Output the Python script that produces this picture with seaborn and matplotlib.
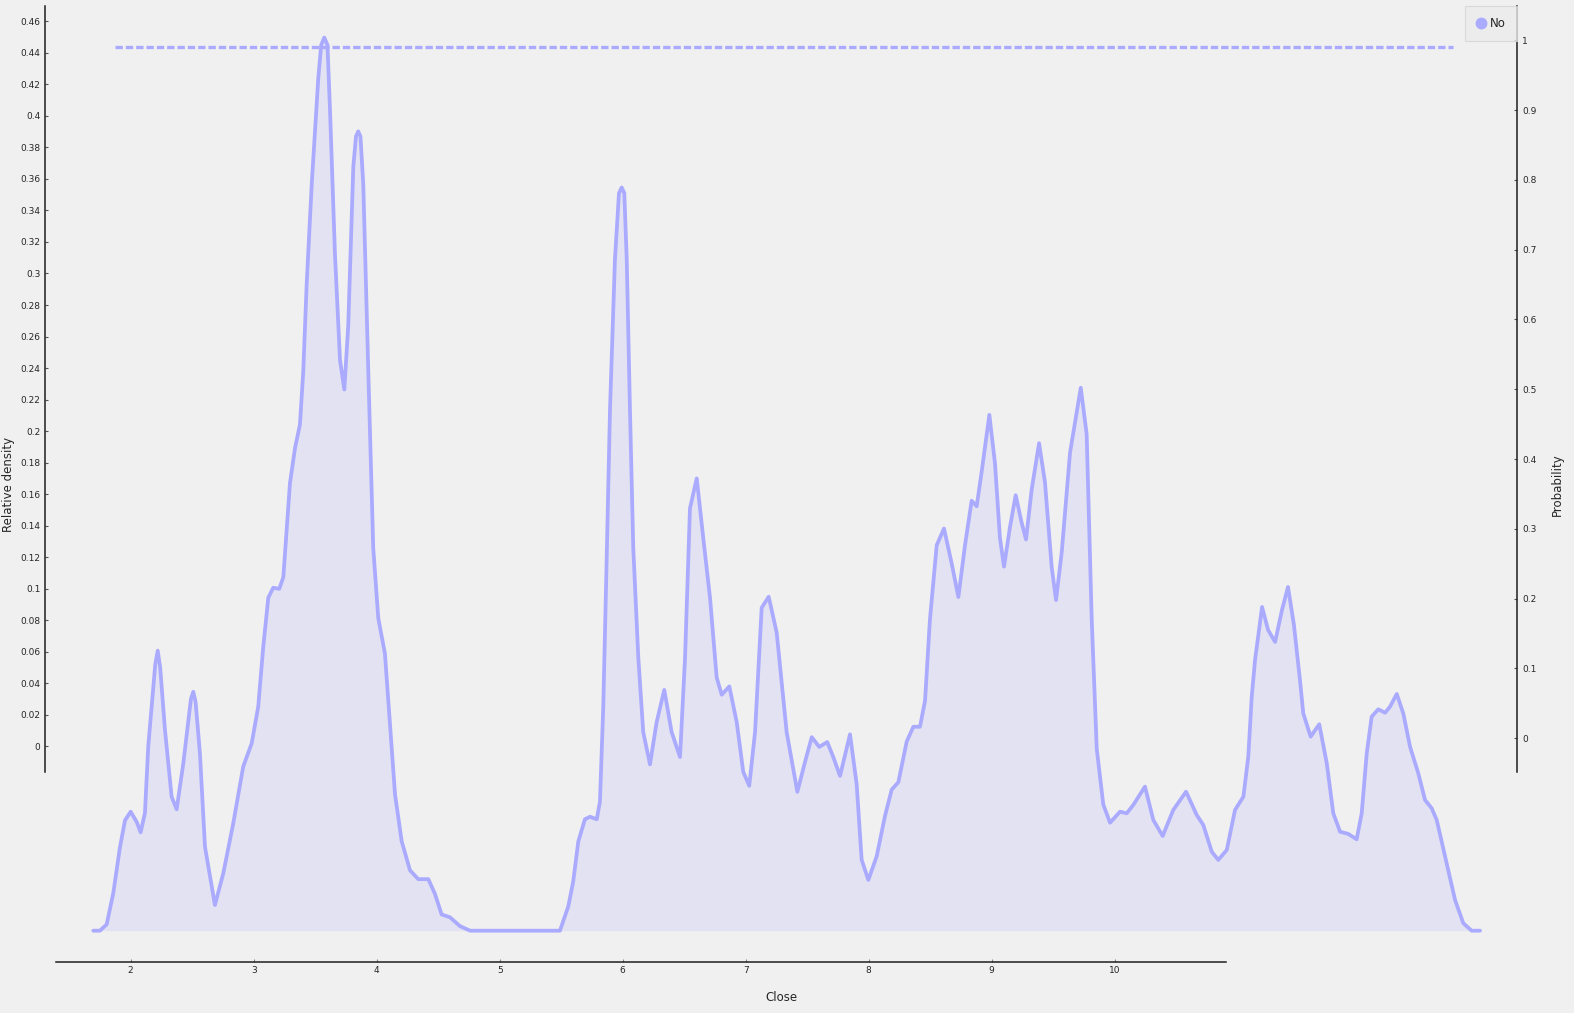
import matplotlib
matplotlib.use("Agg")
import matplotlib.pyplot as plt
from matplotlib.lines import Line2D
from matplotlib.ticker import FixedLocator, FuncFormatter
import seaborn as sns

sns.set_style("white")
plt.rcParams["font.family"] = ["DejaVu Sans"]

# ==========================================
# Data
# ==========================================

class_name = "No"

close = [
    1.696, 1.750, 1.805, 1.859, 1.913, 1.954, 2.000, 2.049, 2.081, 2.116,
    2.143, 2.200, 2.220, 2.240, 2.279, 2.333, 2.374, 2.428, 2.490, 2.509, 2.528,
    2.563, 2.604, 2.685, 2.753, 2.834, 2.915, 2.984, 3.037, 3.078, 3.119,
    3.159, 3.208, 3.241, 3.295, 3.336, 3.376, 3.403, 3.431, 3.472, 3.525,
    3.549, 3.574, 3.600, 3.620, 3.661, 3.702, 3.737, 3.769, 3.810, 3.832,
    3.850, 3.868, 3.891, 3.932, 3.972, 4.013, 4.067, 4.108, 4.149, 4.203,
    4.271, 4.338, 4.420, 4.474, 4.528, 4.596, 4.677, 4.759, 5.000, 5.490,
    5.558, 5.598, 5.639, 5.693, 5.734, 5.789, 5.815, 5.842, 5.870, 5.897,
    5.937, 5.970, 5.992, 6.013, 6.033, 6.059, 6.086, 6.127, 6.167, 6.222,
    6.276, 6.338, 6.398, 6.466, 6.507, 6.547, 6.602, 6.655, 6.710, 6.764,
    6.805, 6.867, 6.927, 6.980, 7.029, 7.076, 7.130, 7.187, 7.252, 7.333,
    7.420, 7.482, 7.537, 7.598, 7.663, 7.712, 7.767, 7.848, 7.902, 7.943,
    7.997, 8.065, 8.133, 8.187, 8.241, 8.309, 8.363, 8.417, 8.458, 8.498,
    8.553, 8.612, 8.675, 8.729, 8.783, 8.837, 8.878, 8.919, 8.981, 9.027,
    9.067, 9.100, 9.149, 9.195, 9.244, 9.279, 9.325, 9.385, 9.433, 9.488,
    9.523, 9.569, 9.637, 9.724, 9.772, 9.813, 9.854, 9.907, 9.962, 10.043,
    10.098, 10.151, 10.246, 10.314, 10.390, 10.476, 10.580, 10.667, 10.720, 10.789,
    10.842, 10.911, 10.978, 11.046, 11.086, 11.114, 11.141, 11.198, 11.247, 11.304,
    11.360, 11.409, 11.457, 11.506, 11.533, 11.593, 11.663, 11.724, 11.777, 11.832,
    11.899, 11.967, 12.008, 12.049, 12.089, 12.143, 12.198, 12.238, 12.293, 12.346,
    12.401, 12.468, 12.523, 12.577, 12.618, 12.699, 12.767, 12.834, 12.902, 12.970,
]

density = [
    -0.117, -0.117, -0.113, -0.093, -0.064, -0.047, -0.0415, -0.048, -0.0546, -0.0423,
    0.000, 0.052, 0.0607, 0.050, 0.0103, -0.032, -0.040, -0.0108, 0.030, 0.0346, 0.028,
    -0.0044, -0.0637, -0.1007, -0.0806, -0.0489, -0.0129, 0.0019, 0.0251, 0.0632, 0.0943,
    0.1006, 0.0999, 0.1073, 0.1669, 0.1892, 0.2041, 0.2376, 0.2934, 0.3567, 0.4236,
    0.445, 0.4497, 0.445, 0.405, 0.312, 0.245, 0.2264, 0.2673, 0.3678, 0.387,
    0.3902, 0.387, 0.3567, 0.2376, 0.1259, 0.0813, 0.0589, 0.0143, -0.0304, -0.0602,
    -0.0787, -0.0843, -0.0843, -0.0937, -0.1067, -0.1085, -0.1141, -0.117, -0.117, -0.117,
    -0.1015, -0.0857, -0.0605, -0.0463, -0.0447, -0.0463, -0.0352, 0.0247, 0.1195, 0.2141,
    0.3089, 0.351, 0.3546, 0.351, 0.3089, 0.2141, 0.1258, 0.0563, 0.009, -0.0115,
    0.0153, 0.0358, 0.009, -0.0068, 0.0563, 0.151, 0.170, 0.1321, 0.0942, 0.0437,
    0.0327, 0.038, 0.0153, -0.0162, -0.0251, 0.009, 0.0879, 0.0949, 0.0721, 0.009,
    -0.0289, -0.010, 0.0058, -0.0004, 0.0027, -0.0068, -0.0188, 0.0076, -0.0239, -0.0721,
    -0.0848, -0.0698, -0.044, -0.0275, -0.0228, 0.003, 0.0124, 0.0124, 0.0289, 0.0806,
    0.1276, 0.1382, 0.1159, 0.0947, 0.1276, 0.1558, 0.1523, 0.1746, 0.2103, 0.1793,
    0.1323, 0.114, 0.1393, 0.1593, 0.1417, 0.1312, 0.1629, 0.1923, 0.1676, 0.1135,
    0.0928, 0.1229, 0.1864, 0.2275, 0.1981, 0.0806, -0.0016, -0.0369, -0.0485, -0.0415,
    -0.0425, -0.0372, -0.0256, -0.0468, -0.0569, -0.0404, -0.0288, -0.0436, -0.0499, -0.0669,
    -0.0721, -0.0658, -0.0404, -0.032, -0.0066, 0.0315, 0.0548, 0.0884, 0.0738, 0.0662,
    0.0865, 0.1011, 0.077, 0.0421, 0.0209, 0.0061, 0.014, -0.0108, -0.0425, -0.0542,
    -0.0556, -0.059, -0.0425, -0.0044, 0.0188, 0.0235, 0.0213, 0.0251, 0.0332, 0.0209,
    -0.0003, -0.0171, -0.0341, -0.0393, -0.0468, -0.0742, -0.0975, -0.1123, -0.117, -0.117,
]

# probability of the class along Close
prob_close = [1.872, 12.748]
prob_value = [0.99, 0.99]

close_ticks = [2, 3, 4, 5, 6, 7, 8, 9, 10]
density_ticks = [0, 0.02, 0.04, 0.06, 0.08, 0.1, 0.12, 0.14, 0.16, 0.18, 0.2, 0.22,
                 0.24, 0.26, 0.28, 0.3, 0.32, 0.34, 0.36, 0.38, 0.4, 0.42, 0.44, 0.46]
prob_ticks = [0, 0.1, 0.2, 0.3, 0.4, 0.5, 0.6, 0.7, 0.8, 0.9, 1]

line_color = "#aaaaff"
fill_color = "#e2e2f2"
bg_color = "#f0f0f0"
axis_color = "#1e1e1e"

# ==========================================
# Figure
# ==========================================

fig = plt.figure(figsize=(15.74, 10.13), dpi=100, facecolor=bg_color)
ax = fig.add_axes([0.02878, 0.05005, 0.93520, 0.94403])
ax.set_facecolor(bg_color)

# density curve
sns.lineplot(x=close, y=density, ax=ax, color=line_color, linewidth=2.7,
             sort=False, estimator=None)
ax.lines[0].set_solid_joinstyle("round")
ax.lines[0].set_solid_capstyle("round")
ax.fill_between(close, density, min(density), color=fill_color, linewidth=0, zorder=1)

ax.set_xlim(1.306, 13.273)
ax.set_ylim(-0.13706, 0.46973)

# left and bottom axes
for side in ["top", "right"]:
    ax.spines[side].set_visible(False)
ax.spines["left"].set_bounds(-0.0161, 0.46973)
ax.spines["bottom"].set_bounds(1.393, 10.902)
for side in ["left", "bottom"]:
    ax.spines[side].set_color(axis_color)
    ax.spines[side].set_linewidth(1.1)

fmt = FuncFormatter(lambda v, pos: f"{v:g}")
ax.yaxis.set_major_locator(FixedLocator(density_ticks))
ax.yaxis.set_major_formatter(fmt)
ax.xaxis.set_major_locator(FixedLocator(close_ticks))
ax.xaxis.set_major_formatter(fmt)
ax.tick_params(axis="y", direction="in", length=2.5, width=0.8, color="#555555",
               labelsize=6.5, pad=3.5, left=True)
ax.tick_params(axis="x", direction="in", length=2.5, width=0.8, color="#888888",
               labelsize=6.5, pad=3, bottom=True)

ax.set_ylabel("Relative density", fontsize=8.5, labelpad=4)
ax.set_xlabel("Close", fontsize=8.5, labelpad=11)

# right axis: probability
ax2 = ax.twinx()
sns.lineplot(x=prob_close, y=prob_value, ax=ax2, color=line_color, linewidth=2.4,
             estimator=None)
ax2.lines[0].set_dashes((2.2, 0.9))
ax2.set_ylim(-0.3209, 1.0491)
for side in ["top", "left", "bottom"]:
    ax2.spines[side].set_visible(False)
ax2.spines["right"].set_bounds(-0.0479, 1.0491)
ax2.spines["right"].set_color(axis_color)
ax2.spines["right"].set_linewidth(1.1)
ax2.yaxis.set_major_locator(FixedLocator(prob_ticks))
ax2.yaxis.set_major_formatter(fmt)
ax2.tick_params(axis="y", direction="in", length=2.5, width=0.8, color="#555555",
                labelsize=6.5, pad=3.5, right=True)
ax2.set_ylabel("Probability", fontsize=8.5, labelpad=10)

# legend
handle = Line2D([], [], linestyle="none", marker="o", markersize=7.5,
                markerfacecolor=line_color, markeredgecolor=line_color)
leg = ax2.legend([handle], [class_name], loc="upper right", bbox_to_anchor=(1.0, 1.0),
                 borderaxespad=0, fontsize=8.5, handlelength=0.8, handletextpad=0.35,
                 borderpad=0.95, frameon=True, fancybox=False)
leg.get_frame().set_facecolor("#ebebeb")
leg.get_frame().set_edgecolor("#d4d4d4")
leg.get_frame().set_linewidth(0.8)

fig.savefig("out.png", dpi=100, facecolor=bg_color)
